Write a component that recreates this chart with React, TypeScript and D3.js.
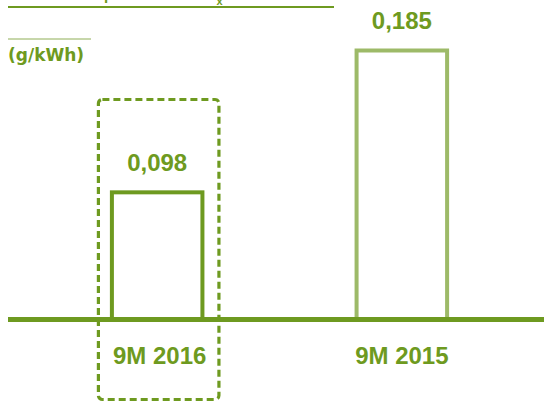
import React from "react";
import * as d3 from "d3";

const categories = ["9M 2016", "9M 2015"];
const values = [0.098, 0.185];
const valueLabels = ["0,098", "0,185"];
const titleMain = "Emisiones específicas de NO";
const titleSub = "x";
const unitLabel = "(g/kWh)";

const W = 544;
const H = 402;
const DARK = "#6e9a20";
const LIGHT = "#9dba68";

export default function App() {
  const baseY = 319.5;
  const x = d3
    .scaleBand<string>()
    .domain(categories)
    .range([38.5, 520.5])
    .paddingInner(0.63)
    .paddingOuter(0.3);
  const y = d3.scaleLinear().domain([0.02, 0.185]).range([baseY, 50.5]);
  const bw = x.bandwidth();
  const x0 = x(categories[0]) as number;

  return (
    <svg
      width={W}
      height={H}
      style={{ position: "absolute", left: 0, top: 0, background: "#fff" }}
      fontFamily="'Liberation Sans', Arial, sans-serif"
      fontWeight="bold"
    >
      <text x={8} y={-0.5} fontSize={15} fill={DARK}>
        {titleMain}
        <tspan fontSize={11} dy={5.5}>{titleSub}</tspan>
      </text>
      <line x1={8} x2={334} y1={7} y2={7} stroke={DARK} strokeWidth={2} />
      <line x1={8} x2={91} y1={39} y2={39} stroke="#8fae57" strokeWidth={1} />
      <text
        x={8}
        y={61}
        fontSize={17}
        fill={DARK}
        fontFamily="'DejaVu Sans', sans-serif"
      >
        {unitLabel}
      </text>

      <rect
        x={x0 - 13.5}
        y={99.5}
        width={bw + 30}
        height={300}
        rx={4}
        fill="none"
        stroke={DARK}
        strokeWidth={3.2}
        strokeDasharray="7 4"
      />

      {categories.map((c, i) => {
        const bx = x(c) as number;
        const by = y(values[i]);
        return (
          <g key={c}>
            <rect
              x={bx}
              y={by}
              width={bw}
              height={baseY - by}
              fill="#fff"
              stroke={i === 0 ? DARK : LIGHT}
              strokeWidth={4}
            />
            <text
              x={bx + bw / 2}
              y={by - 21.5}
              textAnchor="middle"
              fontSize={24}
              fill={DARK}
            >
              {valueLabels[i]}
            </text>
            <text
              x={bx + bw / 2 + (i === 0 ? 2.5 : 0)}
              y={364}
              textAnchor="middle"
              fontSize={24}
              fill={DARK}
            >
              {c}
            </text>
          </g>
        );
      })}

      <line x1={8} x2={W} y1={baseY} y2={baseY} stroke={DARK} strokeWidth={5} />
    </svg>
  );
}
